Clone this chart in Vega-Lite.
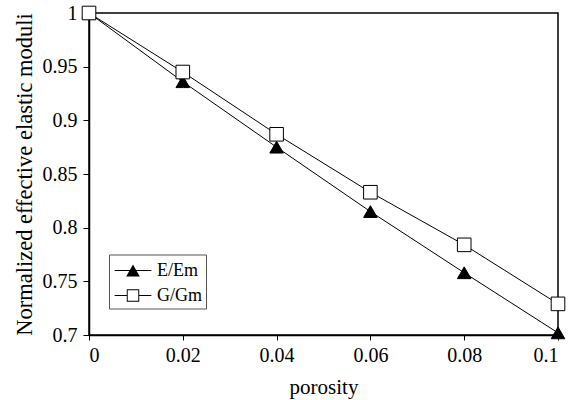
{
  "$schema": "https://vega.github.io/schema/vega-lite/v6.json",
  "autosize": "none",
  "width": 469,
  "height": 322,
  "padding": {"left": 89, "top": 13, "right": 20, "bottom": 65},
  "background": "white",
  "config": {
    "view": {"stroke": "black", "strokeWidth": 1.5},
    "axis": {
      "grid": false,
      "domainColor": "black",
      "domainWidth": 1.5,
      "tickColor": "black",
      "tickWidth": 1,
      "labelColor": "black",
      "titleColor": "black",
      "titleFontWeight": "normal"
    }
  },
  "data": {
    "values": [
      {"porosity": 0, "value": 1, "series": "E/Em"},
      {"porosity": 0.02, "value": 0.936, "series": "E/Em"},
      {"porosity": 0.04, "value": 0.875, "series": "E/Em"},
      {"porosity": 0.06, "value": 0.815, "series": "E/Em"},
      {"porosity": 0.08, "value": 0.758, "series": "E/Em"},
      {"porosity": 0.1, "value": 0.702, "series": "E/Em"},
      {"porosity": 0, "value": 1, "series": "G/Gm"},
      {"porosity": 0.02, "value": 0.945, "series": "G/Gm"},
      {"porosity": 0.04, "value": 0.887, "series": "G/Gm"},
      {"porosity": 0.06, "value": 0.833, "series": "G/Gm"},
      {"porosity": 0.08, "value": 0.784, "series": "G/Gm"},
      {"porosity": 0.1, "value": 0.729, "series": "G/Gm"}
    ]
  },
  "encoding": {
    "x": {
      "field": "porosity",
      "type": "quantitative",
      "scale": {"domain": [0, 0.1], "nice": false},
      "axis": {
        "title": "porosity",
        "values": [0, 0.02, 0.04, 0.06, 0.08, 0.1],
        "format": "~g",
        "labelFont": "Liberation Serif",
        "titleFont": "Liberation Serif",
        "labelFontSize": 20,
        "titleFontSize": 21,
        "tickSize": 5,
        "labelPadding": 5,
        "titlePadding": 11
      }
    },
    "y": {
      "field": "value",
      "type": "quantitative",
      "scale": {"domain": [0.7, 1], "nice": false, "zero": false},
      "axis": {
        "title": "Normalized effective elastic moduli",
        "values": [0.7, 0.75, 0.8, 0.85, 0.9, 0.95, 1],
        "format": "~g",
        "labelFont": "Liberation Serif",
        "titleFont": "Liberation Serif",
        "labelFontSize": 20,
        "titleFontSize": 22.5,
        "tickSize": 6,
        "labelPadding": 6,
        "titlePadding": 6
      }
    }
  },
  "layer": [
    {
      "mark": {"type": "line", "stroke": "black", "strokeWidth": 1},
      "encoding": {"detail": {"field": "series"}}
    },
    {
      "mark": {"type": "point", "size": 185, "stroke": "black", "strokeWidth": 1, "opacity": 1, "fillOpacity": 1},
      "encoding": {
        "shape": {
          "field": "series",
          "type": "nominal",
          "scale": {"domain": ["E/Em", "G/Gm"], "range": ["triangle-up", "square"]},
          "legend": null
        },
        "fill": {
          "field": "series",
          "type": "nominal",
          "scale": {"domain": ["E/Em", "G/Gm"], "range": ["black", "white"]},
          "legend": null
        }
      }
    },
    {
      "mark": {"type": "point", "filled": true, "fill": "black", "opacity": 0, "size": 576},
      "encoding": {
        "shape": {
          "field": "series",
          "type": "nominal",
          "scale": {
            "domain": ["E/Em", "G/Gm"],
            "range": [
              "M-1.53,-0.045H1.53V0.045H-1.53ZM0,-0.5L0.57,0.5L-0.57,0.5Z",
              "M-1.53,-0.045H-0.52V0.045H-1.53ZM0.52,-0.045H1.53V0.045H0.52ZM-0.52,-0.52H0.52V0.52H-0.52ZM-0.44,-0.44V0.44H0.44V-0.44Z"
            ]
          },
          "legend": {
            "title": null,
            "orient": "none",
            "legendX": 20,
            "legendY": 241.5,
            "padding": 4,
            "strokeColor": "#555555",
            "symbolSize": 576,
            "symbolOffset": 8,
            "symbolOpacity": 1,
            "symbolFillColor": "black",
            "symbolStrokeWidth": 0,
            "labelOffset": 12,
            "rowPadding": 4,
            "labelFont": "Liberation Serif",
            "labelFontSize": 18,
            "labelColor": "black",
            "encode": {
              "legend": {"strokeWidth": {"value": 1.5}}
            }
          }
        }
      }
    }
  ],
  "resolve": {"scale": {"shape": "independent"}}
}
